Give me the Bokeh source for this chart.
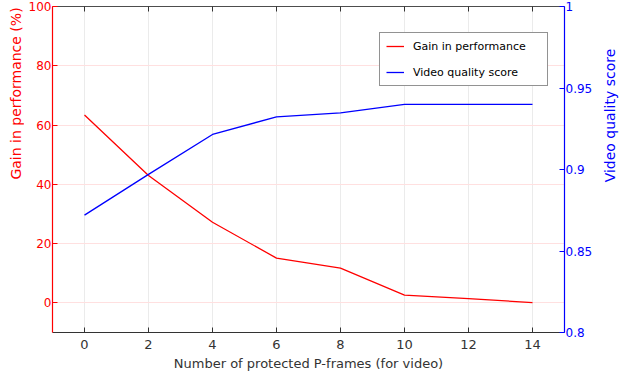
import math
from bokeh.plotting import figure
from bokeh.layouts import row
from bokeh.models import Range1d, LinearAxis, FixedTicker, CustomJSTickFormatter, Legend, LegendItem, Label
from bokeh.embed import file_html
from bokeh.resources import INLINE

frames = [0, 2, 4, 6, 8, 10, 12, 14]
gain = [63.4, 43.0, 27.2, 15.1, 11.7, 2.6, 1.4, 0.1]
quality = [0.872, 0.897, 0.9215, 0.9323, 0.9348, 0.9399, 0.94, 0.94]
x_ticks = [0, 2, 4, 6, 8, 10, 12, 14]
left_ticks = [0, 20, 40, 60, 80, 100]
right_ticks = [0.8, 0.85, 0.9, 0.95, 1.0]

FONT = "DejaVu Sans"
GRAY = "#333333"
RED = "#ff0000"
BLUE = "#0000ff"
H = 381

p = figure(width=576, height=H, output_backend="svg", toolbar_location=None,
           x_range=Range1d(-1, 15), y_range=Range1d(-10, 100),
           min_border_left=28, min_border_right=36, min_border_top=6, min_border_bottom=49)
p.outline_line_color = None
p.background_fill_color = "white"

p.extra_y_ranges = {"vq": Range1d(0.8, 1.0)}

fmt = CustomJSTickFormatter(code="return String(Math.round(tick*1000)/1000);")

xa = p.xaxis[0]
xa.ticker = FixedTicker(ticks=x_ticks)
xa.axis_label = "Number of protected P-frames (for video)"

ya = p.yaxis[0]
ya.ticker = FixedTicker(ticks=left_ticks)

ra = LinearAxis(y_range_name="vq", ticker=FixedTicker(ticks=right_ticks), formatter=fmt)
p.add_layout(ra, "right")

ta = LinearAxis(ticker=FixedTicker(ticks=x_ticks))
p.add_layout(ta, "above")

for ax, col in [(xa, GRAY), (ta, GRAY), (ya, RED), (ra, BLUE)]:
    ax.axis_line_color = col
    ax.axis_line_width = 1.2
    ax.major_tick_line_color = col
    ax.major_tick_in = 5
    ax.major_tick_out = 0
    ax.minor_tick_line_color = None
    ax.major_label_text_color = col
    ax.major_label_text_font = FONT
    ax.major_label_text_font_size = "13px"
    ax.axis_label_text_color = col
    ax.axis_label_text_font = FONT
    ax.axis_label_text_font_size = "13px"
    ax.axis_label_text_font_style = "normal"

ta.major_label_text_alpha = 0
ta.major_label_text_font_size = "1px"
ta.major_label_standoff = 0
ta.axis_line_color = "#4d4d4d"

ya.major_label_text_font_size = "12px"
ra.major_label_text_font_size = "12px"

xa.major_label_standoff = 7
xa.axis_label_standoff = 4
ya.major_label_standoff = 1
ra.major_label_standoff = 1

p.xgrid.ticker = FixedTicker(ticks=x_ticks)
p.xgrid.grid_line_color = "#ebebeb"
p.xgrid.grid_line_width = 1
p.ygrid.ticker = FixedTicker(ticks=left_ticks)
p.ygrid.grid_line_color = "#ffe0e0"
p.ygrid.grid_line_width = 1

r1 = p.line(frames, gain, line_color=RED, line_width=1.3)
r2 = p.line(frames, quality, line_color=BLUE, line_width=1.3, y_range_name="vq")

leg = Legend(items=[LegendItem(label="Gain in performance", renderers=[r1]),
                    LegendItem(label="Video quality score", renderers=[r2])],
             location=(327, 246))
leg.label_text_font = FONT
leg.label_text_font_size = "11px"
leg.label_text_color = "#000000"
leg.border_line_color = "#262626"
leg.border_line_width = 1
leg.background_fill_color = "white"
leg.background_fill_alpha = 1
leg.glyph_width = 18
leg.glyph_height = 14
leg.label_standoff = 9
leg.label_width = 128
leg.spacing = 12
leg.padding = 6
leg.margin = 0
p.add_layout(leg, "center")


def side_title(width, text, color, sx, sy):
    f = figure(width=width, height=H, output_backend="svg", toolbar_location=None,
               x_range=Range1d(0, 1), y_range=Range1d(0, 1),
               x_axis_type=None, y_axis_type=None,
               min_border_left=0, min_border_right=0, min_border_top=0, min_border_bottom=0)
    f.outline_line_color = None
    f.grid.visible = False
    f.add_layout(Label(x=sx, y=sy, x_units="screen", y_units="screen", text=text,
                       angle=math.pi / 2, text_align="center", text_baseline="middle",
                       text_font=FONT, text_font_size="14px", text_color=color))
    return f


left_fig = side_title(24, "Gain in performance (%)", RED, 15.5, H - 142)
right_fig = side_title(20, "Video quality score", BLUE, 9, H - 164)

layout = row(left_fig, p, right_fig, spacing=0)

open("out.html", "w").write(file_html(layout, INLINE))
